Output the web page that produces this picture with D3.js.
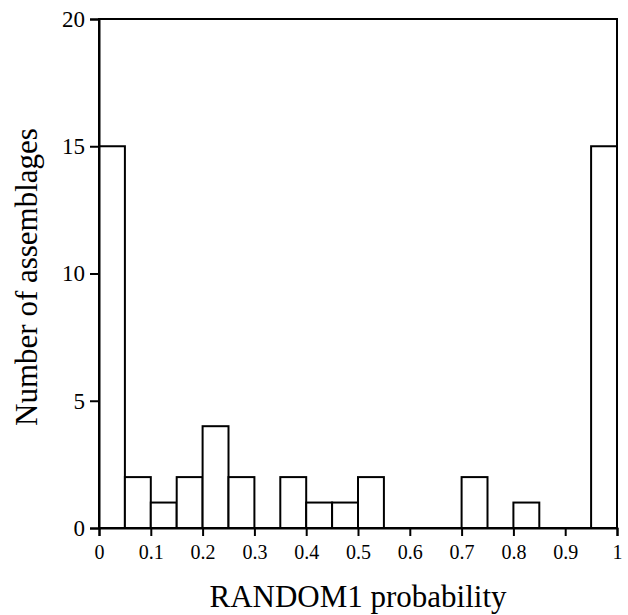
<!DOCTYPE html>
<html>
<head>
<meta charset="utf-8">
<script src="https://cdn.jsdelivr.net/npm/d3@7"></script>
<style>
  body { margin: 0; background: #fff; }
</style>
</head>
<body>
<div id="chart"></div>
<script>
// bin edges 0..1 step 0.05, counts per bin
let binStarts = [0, 0.05, 0.1, 0.15, 0.2, 0.25, 0.3, 0.35, 0.4, 0.45,
                 0.5, 0.55, 0.6, 0.65, 0.7, 0.75, 0.8, 0.85, 0.9, 0.95];
let counts = [15, 2, 1, 2, 4, 2, 0, 2, 1, 1, 2, 0, 0, 0, 2, 0, 1, 0, 0, 15];
let xTicks = [0, 0.1, 0.2, 0.3, 0.4, 0.5, 0.6, 0.7, 0.8, 0.9, 1];
let yTicks = [0, 5, 10, 15, 20];
let binWidth = 0.05;

let serif = "'Liberation Serif', 'Times New Roman', serif";

let margin = {top: 19, right: 11, bottom: 87, left: 99},
    width = 628 - margin.left - margin.right,
    height = 615 - margin.top - margin.bottom;

let svg = d3.select("#chart")
    .append("svg")
    .attr("width", 628)
    .attr("height", 615)
    .append("g")
    .attr("transform", "translate(" + margin.left + "," + margin.top + ")");

let x = d3.scaleLinear().domain([0, 1]).range([0, width]);
let y = d3.scaleLinear().domain([0, 20]).range([height, 0]);

let bins = binStarts.map(function (s, i) {
    return {x0: s, x1: s + binWidth, n: counts[i]};
});

svg.selectAll("rect.bar")
    .data(bins.filter(function (d) { return d.n > 0; }))
    .enter()
    .append("rect")
    .attr("class", "bar")
    .attr("x", function (d) { return x(d.x0); })
    .attr("y", function (d) { return y(d.n); })
    .attr("width", function (d) { return x(d.x1) - x(d.x0); })
    .attr("height", function (d) { return height - y(d.n); })
    .style("fill", "#fff")
    .style("stroke", "#000")
    .style("stroke-width", 2);

// frame
svg.append("rect")
    .attr("x", 0).attr("y", 0)
    .attr("width", width).attr("height", height)
    .style("fill", "none")
    .style("stroke", "#000")
    .style("stroke-width", 2);

let xAxis = svg.append("g")
    .attr("transform", "translate(0," + height + ")")
    .call(d3.axisBottom(x).tickValues(xTicks)
        .tickFormat(function (d) { return d === 0 || d === 1 ? d3.format("d")(d) : d3.format(".1f")(d); })
        .tickSize(8).tickPadding(9));
xAxis.attr("font-family", null);
xAxis.select(".domain").attr("stroke-width", 2);
xAxis.selectAll(".tick line").attr("stroke-width", 2);
xAxis.selectAll("text")
    .style("font-size", "20px")
    .style("font-family", serif);

let yAxis = svg.append("g")
    .call(d3.axisLeft(y).tickValues(yTicks).tickSize(9).tickPadding(5));
yAxis.attr("font-family", null);
yAxis.select(".domain").attr("stroke-width", 2);
yAxis.selectAll(".tick line").attr("stroke-width", 2);
yAxis.selectAll("text")
    .style("font-size", "23px")
    .style("font-family", serif);

svg.append("text")
    .attr("x", width / 2)
    .attr("y", height + 79)
    .attr("text-anchor", "middle")
    .style("font-family", serif)
    .style("font-size", "31px")
    .text("RANDOM1 probability");

svg.append("text")
    .attr("transform", "rotate(-90)")
    .attr("x", -258)
    .attr("y", -62)
    .attr("text-anchor", "middle")
    .style("font-family", serif)
    .style("font-size", "31px")
    .text("Number of assemblages");
</script>
</body>
</html>
